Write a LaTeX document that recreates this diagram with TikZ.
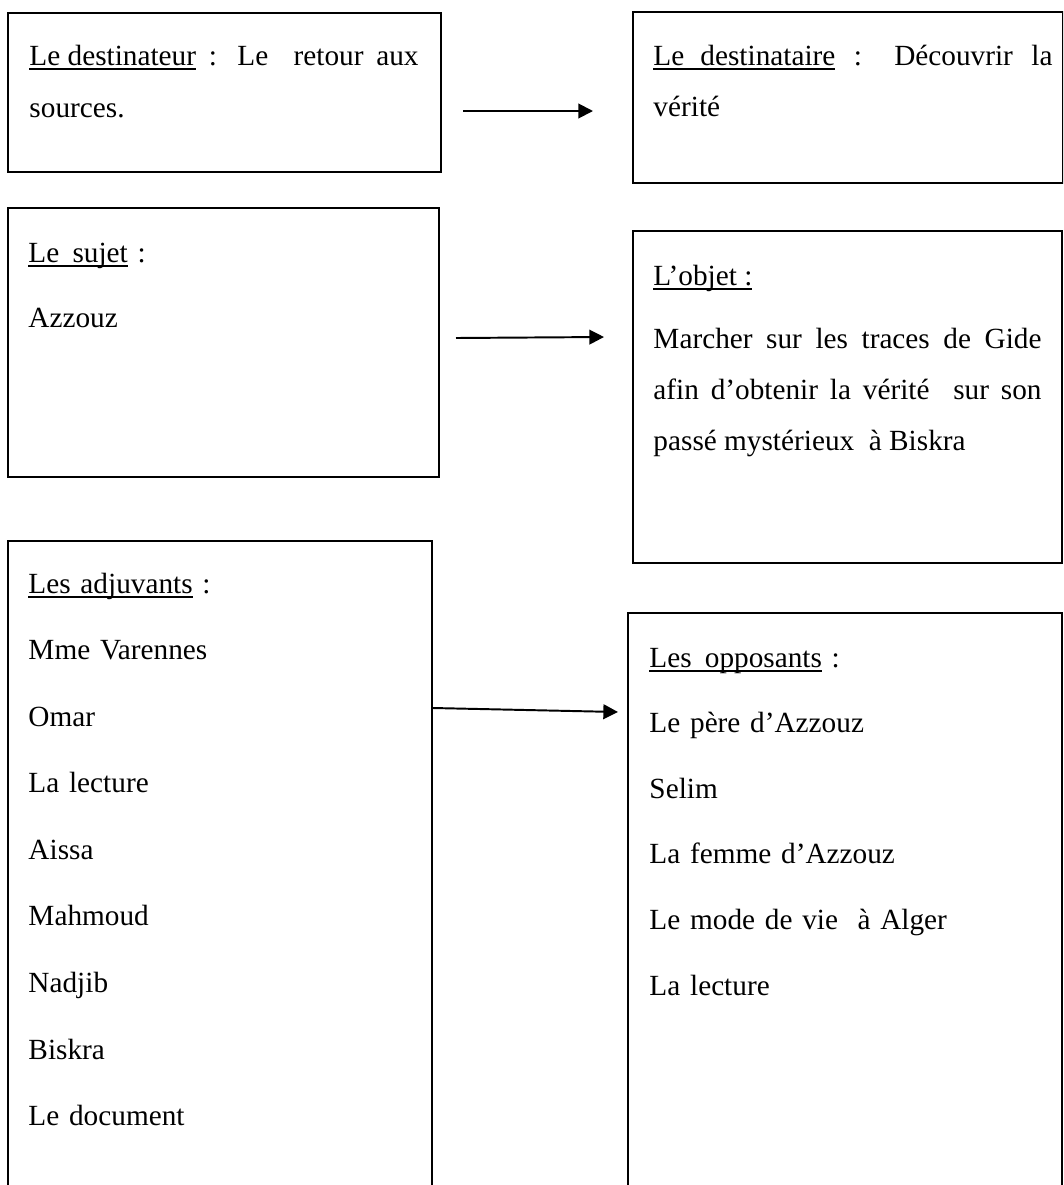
\documentclass[tikz,border=0pt]{standalone}
\usepackage{fontspec}
\setmainfont{Liberation Serif}
\usetikzlibrary{arrows.meta}

% soulignement simple
\newcommand{\souligne}[1]{\setbox0\hbox{#1}\rlap{\rule[-2pt]{\wd0}{0.7pt}}\box0\relax}

\begin{document}
\begin{tikzpicture}[x=0.41pt, y=-0.41pt,
    cadre/.style={draw, rectangle, line width=0.8pt, inner sep=0pt, anchor=north west},
    texte/.style={anchor=base west, inner sep=0pt, font=\fontsize{12}{#1}\selectfont},
    fleche/.style={line width=0.8pt, -{Triangle[length=6pt, width=6pt]}}]
    \clip (0,0) rectangle (1063,1185);

    % les cadres
    \node[cadre, minimum width=177.5pt, minimum height=65.2pt] (destinateur) at (7,12) {};
    \node[cadre, minimum width=176.3pt, minimum height=70.1pt] (destinataire) at (632,11) {};
    \node[cadre, minimum width=176.7pt, minimum height=110.3pt] (sujet) at (7,207) {};
    \node[cadre, minimum width=175.9pt, minimum height=136.1pt] (objet) at (632,230) {};
    \node[cadre, minimum width=173.8pt, minimum height=300pt] (adjuvants) at (7,540) {};
    \node[cadre, minimum width=177.9pt, minimum height=280pt] (opposants) at (627,612) {};

    % les textes
    \node[texte=21.7, text width=159.5pt, align=justify] (t-destinateur) at (29,65)
        {\souligne{Le destinateur} : Le\ \ retour aux\linebreak sources.};
    \node[texte=21.3, text width=163.6pt, align=justify] (t-destinataire) at (653,65)
        {\souligne{Le\hspace{0.55em}destinataire} : Découvrir la\linebreak vérité};
    \node[texte=26.7, text width=150pt, align=left] (t-sujet) at (28,262)
        {\souligne{Le\hspace{0.45em}sujet} :\\ Azzouz};
    \node[texte=21.3] (t-objet) at (653,285) {\souligne{L’objet :}};
    \node[texte=21.1, text width=159.1pt, align=justify] (t-objet2) at (653,348)
        {Marcher sur les traces de Gide\linebreak afin d’obtenir la vérité\ \ sur son\linebreak passé mystérieux\ \ à Biskra};
    \node[texte=27.3, text width=150pt, align=left] (t-adjuvants) at (28,593)
        {\souligne{Les adjuvants} :\\ Mme Varennes\\ Omar\\ La lecture\\ Aissa\\ Mahmoud\\ Nadjib\\ Biskra\\ Le document};
    \node[texte=26.9, text width=160pt, align=left] (t-opposants) at (649,667)
        {\souligne{Les\hspace{0.45em}opposants} :\\ Le père d’Azzouz\\ Selim\\ La femme d’Azzouz\\ Le mode de vie\ \ à Alger\\ La lecture};

    % les fleches
    \coordinate (f1a) at (463,111);
    \coordinate (f1b) at (593,111);
    \coordinate (f2a) at (456,338);
    \coordinate (f2b) at (604,337);
    \coordinate (f3b) at (618,712);
    \draw[fleche] (f1a) -- (f1b);
    \draw[fleche] (f2a) -- (f2b);
    \draw[fleche] (adjuvants.north east) ++(0,168) -- (f3b);
\end{tikzpicture}
\end{document}
